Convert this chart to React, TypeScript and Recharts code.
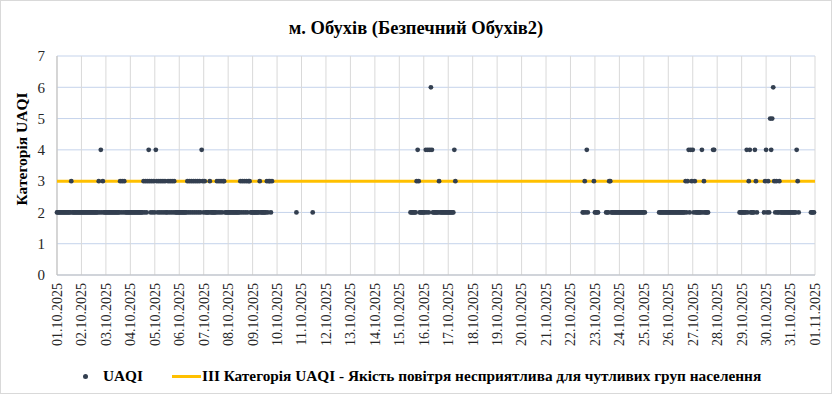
import React from "react";
import { ScatterChart, Scatter, XAxis, YAxis, CartesianGrid } from "recharts";

const dateLabels = [
  "01.10.2025", "02.10.2025", "03.10.2025", "04.10.2025", "05.10.2025", "06.10.2025",
  "07.10.2025", "08.10.2025", "09.10.2025", "10.10.2025", "11.10.2025", "12.10.2025",
  "13.10.2025", "14.10.2025", "15.10.2025", "16.10.2025", "17.10.2025", "18.10.2025",
  "19.10.2025", "20.10.2025", "21.10.2025", "22.10.2025", "23.10.2025", "24.10.2025",
  "25.10.2025", "26.10.2025", "27.10.2025", "28.10.2025", "29.10.2025", "30.10.2025",
  "31.10.2025", "01.11.2025",
];

// hourly UAQI category per day, 24 chars each ("." = no data)
const hourlyUaqi = [
  "222222 222222 223222 222222",
  "222222 222222 222223 242322",
  "222222 222222 223232 322222",
  "222222 222222 232323 432323",
  "243232 323232 232323 232222",
  "222222 223232 323232 323243",
  "232222 322222 232323 233222",
  "222222 222222 323232 323322",
  "222222 232222 223233 23....",
  "...... ...... ...... .2....",
  "...... .....2 ...... ......",
  "...... ...... ...... ......",
  "...... ...... ...... ......",
  "...... ...... ...... ......",
  "...... .....2 222223 432222",
  "224242 464222 222322 222222",
  "222222 43.... ...... ......",
  "...... ...... ...... ......",
  "...... ...... ...... ......",
  "...... ...... ...... ......",
  "...... ...... ...... ......",
  "...... ...... 223242 .....3",
  "2222.. .....2 223322 222222",
  "222222 222222 222222 222222",
  "22.... ...... ...222 222222",
  "222222 222222 222223 234243",
  "423222 222423 2222.. ..44..",
  "...... ...... ...... ....22",
  "222224 234222 2432.. ....23",
  "423254 563232 232222 222222",
  "222222 432... ...... ..2222",
];

const yTicks = [0, 1, 2, 3, 4, 5, 6, 7];
const thresholdValue = 3;

const seriesName = "UAQI";
const thresholdName =
  "III Категорія UAQI - Якість повітря несприятлива для чутливих груп населення";

const points = hourlyUaqi.flatMap((day, d) =>
  day
    .replace(/ /g, "")
    .split("")
    .map((c, h) => (c === "." ? null : { x: d * 24 + h, y: Number(c) }))
    .filter((p): p is { x: number; y: number } => p !== null)
);

const xTicks = dateLabels.map((_, i) => i * 24);
const xMax = xTicks[xTicks.length - 1];
const thresholdLine = [
  { x: 0, y: thresholdValue },
  { x: xMax, y: thresholdValue },
];

const FONT = "Liberation Serif, Times New Roman, serif";
const DOT = "#333f50";
const GOLD = "#ffc000";

const DateTick = (props: any) => {
  const { x, y, payload } = props;
  const label = dateLabels[Math.round(payload.value / 24)];
  return (
    <text
      x={x}
      y={y}
      transform={`rotate(-90, ${x}, ${y})`}
      textAnchor="end"
      dy="0.35em"
      fontSize={14}
      fontFamily={FONT}
      fill="#262626"
    >
      {label}
    </text>
  );
};

export default function App() {
  return (
    <div style={{ position: "absolute", left: 0, top: 0, width: 832, height: 394, background: "#fff", fontFamily: FONT }}>
      <div style={{ position: "absolute", inset: 0, border: "1px solid #d9d9d9" }} />

      <div style={{ position: "absolute", top: 18, width: 832, textAlign: "center", fontSize: 18.5, fontWeight: "bold", color: "#000" }}>
        м. Обухів (Безпечний Обухів2)
      </div>

      <div
        style={{
          position: "absolute",
          left: 22,
          top: 149,
          transform: "translate(-50%, -50%) rotate(-90deg)",
          whiteSpace: "nowrap",
          fontSize: 15.5,
          fontWeight: "bold",
          color: "#000",
        }}
      >
        Категорія UAQI
      </div>

      <div style={{ position: "absolute", left: 0, top: 0 }}>
        <ScatterChart width={832} height={394} margin={{ top: 56, right: 17, left: 0, bottom: 0 }}>
          <CartesianGrid vertical={false} stroke="#c5d3eb" />
          <CartesianGrid horizontal={false} stroke="#d9d9d9" />
          <XAxis
            type="number"
            dataKey="x"
            domain={[0, xMax]}
            ticks={xTicks}
            interval={0}
            height={119}
            tickLine={false}
            tickSize={0}
            tickMargin={8}
            axisLine={{ stroke: "#bfbfbf" }}
            tick={<DateTick />}
          />
          <YAxis
            type="number"
            dataKey="y"
            domain={[0, 7]}
            ticks={yTicks}
            interval={0}
            width={57}
            tickLine={false}
            tickSize={0}
            tickMargin={12}
            axisLine={{ stroke: "#bfbfbf" }}
            tick={{ fontSize: 15, fontFamily: FONT, fill: "#262626" }}
          />
          <Scatter
            name={thresholdName}
            data={thresholdLine}
            line={{ stroke: GOLD, strokeWidth: 3 }}
            shape={() => <g />}
            isAnimationActive={false}
          />
          <Scatter
            name={seriesName}
            data={points}
            fill={DOT}
            shape={(p: any) => <circle cx={p.cx} cy={p.cy} r={2.4} fill={DOT} />}
            isAnimationActive={false}
          />
        </ScatterChart>
      </div>

      <div style={{ position: "absolute", left: 0, top: 366, width: 832, height: 20, fontSize: 15.3, fontWeight: "bold", color: "#000" }}>
        <span style={{ position: "absolute", left: 83, top: 8, width: 5, height: 5, borderRadius: "50%", background: DOT }} />
        <span style={{ position: "absolute", left: 103, top: 0, lineHeight: "20px" }}>{seriesName}</span>
        <span style={{ position: "absolute", left: 172, top: 9, width: 29, height: 3, background: GOLD }} />
        <span style={{ position: "absolute", left: 202, top: 0, lineHeight: "20px", whiteSpace: "nowrap" }}>{thresholdName}</span>
      </div>
    </div>
  );
}
